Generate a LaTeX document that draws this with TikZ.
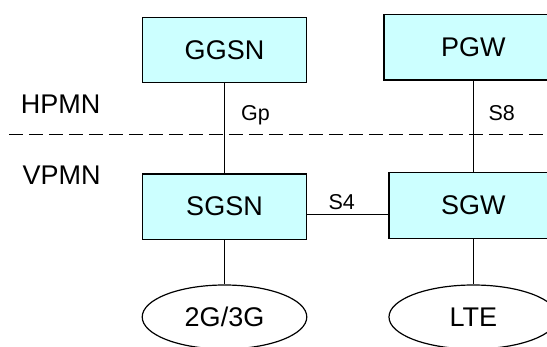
\documentclass[tikz,border=0pt]{standalone}
\usepackage{fontspec}
\setmainfont{Liberation Sans}
\usetikzlibrary{shapes.geometric}
\definecolor{boxcyan}{HTML}{CCFFFF}
\begin{document}
\begin{tikzpicture}[x=1pt,y=-1pt,
		netbox/.style={draw,fill=boxcyan,line width=1.2pt,inner sep=0pt,minimum height=65.4pt,font=\fontsize{27}{32}\selectfont},
		radio/.style={draw,ellipse,line width=1.2pt,inner sep=0pt,minimum height=64pt,font=\fontsize{27}{32}\selectfont},
		big/.style={anchor=base west,inner sep=0pt,font=\fontsize{27}{32}\selectfont},
		small/.style={anchor=base west,inner sep=0pt,font=\fontsize{21.5}{26}\selectfont}]
		\useasboundingbox (0,0) rectangle (547,347);
		\clip (0,0) rectangle (547,347);
		\draw[line width=1.1pt,dash pattern=on 13.3pt off 6.7pt] (9.4,134.5) -- (560,134.5);
		% boxes of the two networks
		\node[netbox,minimum width=164.6pt] (ggsn) at (224.5,50) {GGSN};
		\node[netbox,minimum width=178.6pt] (pgw) at (473.3,47.3) {PGW};
		\node[netbox,minimum width=164.6pt] (sgsn) at (224.5,206.7) {SGSN};
		\node[netbox,minimum width=168.6pt] (sgw) at (473.3,205.5) {SGW};
		\node[radio,minimum width=164.6pt] (geran) at (224.5,317) {2G/3G};
		\node[radio,minimum width=168.6pt] (lte) at (473.3,317) {LTE};
		% interfaces
		\draw[line width=1pt] (ggsn) -- (sgsn);
		\draw[line width=1pt] (pgw) -- (sgw);
		\draw[line width=1pt] (sgsn) -- (geran);
		\draw[line width=1pt] (sgw) -- (lte);
		\coordinate (sfour) at ([yshift=-7.6pt]sgsn.east);
		\draw[line width=1pt] (sfour) -- (sfour -| sgw.west);
		\path (20.6,114) node[big] (hpmn) {HPMN};
		\path (22.5,185) node[big] (vpmn) {VPMN};
		\path (241,120.7) node[small] (gp) {Gp};
		\path (488.3,120.7) node[small] (seight) {S8};
		\path (328.3,209.3) node[small] (sfourlabel) {S4};
	\end{tikzpicture}
\end{document}
